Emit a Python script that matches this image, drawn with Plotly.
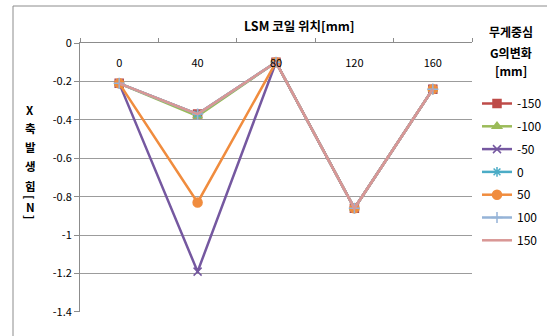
import plotly.graph_objects as go

categories = ["0", "40", "80", "120", "160"]
series_names = ["-150", "-100", "-50", "0", "50", "100", "150"]
s_m150 = [-0.21, -0.37, -0.10, -0.86, -0.24]
s_m100 = [-0.21, -0.38, -0.10, -0.86, -0.24]
s_m50 = [-0.21, -1.19, -0.10, -0.86, -0.24]
s_0 = [-0.21, -0.37, -0.10, -0.86, -0.24]
s_50 = [-0.21, -0.83, -0.10, -0.86, -0.24]
s_100 = [-0.21, -0.37, -0.10, -0.86, -0.24]
s_150 = [-0.21, -0.37, -0.10, -0.86, -0.24]
values = [s_m150, s_m100, s_m50, s_0, s_50, s_100, s_150]
y_ticks = [0, -0.2, -0.4, -0.6, -0.8, -1, -1.2, -1.4]

colors = ["#BE4B48", "#9BBB59", "#7558A0", "#4BACC6", "#F08C3E", "#95B3D7", "#D99795"]
symbols = ["square", "triangle-up", "x-thin-open", "asterisk-open", "circle", "cross-thin-open", None]
sizes = [8, 8, 8, 8, 9, 8, 0]

FONT = "Noto Sans CJK KR"
W, H = 570, 336
L, R, T, B = 80, W - 472, 43, 24
PW, PH = W - L - R, H - T - B


def px(x):
    return (x - L) / PW


def py(y):
    return (H - B - y) / PH


fig = go.Figure()
for name, vals, c, sym, sz in zip(series_names, values, colors, symbols, sizes):
    marker = dict(color=c, size=sz, line=dict(color=c, width=1.5))
    if sym:
        marker["symbol"] = sym
        mode = "lines+markers"
    else:
        mode = "lines"
    fig.add_trace(go.Scatter(x=categories, y=vals, name=name, mode=mode, legendgroup=name,
                             line=dict(color=c, width=2.5), marker=marker))

fig.update_layout(
    width=W, height=H,
    margin=dict(l=L, r=R, t=T, b=B),
    paper_bgcolor="white", plot_bgcolor="white",
    font=dict(family=FONT, size=11, color="#000000"),
    showlegend=True,
    legend=dict(x=px(477), xanchor="left", y=py(89), yanchor="top",
                font=dict(size=12, color="#000000"),
                itemwidth=30, tracegroupgap=3.8, bgcolor="rgba(0,0,0,0)"),
    xaxis=dict(type="category", side="top", range=[-0.5, 4.5], tickson="boundaries",
               ticks="outside", ticklen=4, tickcolor="#8C8C8C",
               ticklabelposition="outside", ticklabelstandoff=-29,
               showgrid=False, showline=True,
               linecolor="#8C8C8C", linewidth=1, zeroline=False,
               tickfont=dict(size=11)),
    yaxis=dict(range=[-1.4001, 0.0001], tickvals=y_ticks, ticktext=[str(v) for v in y_ticks],
               showgrid=True, gridcolor="#9C9C9C", gridwidth=1,
               ticks="outside", ticklen=5, tickcolor="#8C8C8C",
               showline=True, linecolor="#8C8C8C", linewidth=1, zeroline=False,
               tickfont=dict(size=11)),
)

fig.add_annotation(text="<b>LSM 코일 위치[mm]</b>", xref="paper", yref="paper",
                   x=px(299), y=py(25), xanchor="center", yanchor="middle",
                   showarrow=False, font=dict(size=12.5))

for txt, yy in [("무게중심", 32), ("G의변화", 52), ("[mm]", 70)]:
    fig.add_annotation(text="<b>" + txt + "</b>", xref="paper", yref="paper",
                       x=px(511), y=py(yy), xanchor="center", yanchor="middle",
                       showarrow=False, font=dict(size=12))

ytitle_chars = [("X", 110, 0), ("축", 128, 0), ("발", 147, 0), ("생", 166, 0),
                ("힘", 186, 0), ("[", 197, 90), ("N", 207, 0), ("]", 217, 90)]
for ch, yy, ang in ytitle_chars:
    fig.add_annotation(text="<b>" + ch + "</b>", xref="paper", yref="paper",
                       x=px(30), y=py(yy), xanchor="center", yanchor="middle",
                       showarrow=False, textangle=ang, font=dict(size=11.5))

fig.add_shape(type="rect", xref="paper", yref="paper",
              x0=px(13), y0=-0.5, x1=1.5, y1=py(6),
              line=dict(color="#8C8C8C", width=1), layer="below")

fig.write_html("out.html", config={"displayModeBar": False},
               post_script="document.body.style.margin='0';document.body.style.overflow='hidden';")
